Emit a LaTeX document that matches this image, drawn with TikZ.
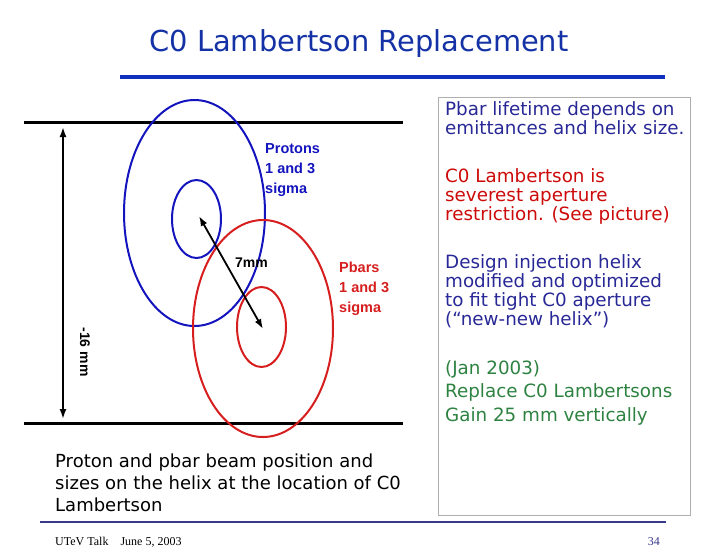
\documentclass[tikz,border=0pt]{standalone}
\usepackage{fontspec}
\setmainfont{DejaVu Sans}
\newfontfamily\arialfont{Liberation Sans}
\newfontfamily\timesfont{Liberation Serif}
\usetikzlibrary{arrows.meta}
\definecolor{titleblue}{RGB}{20,50,165}
\definecolor{ruleblue}{RGB}{15,50,190}
\definecolor{navytext}{RGB}{40,40,150}
\definecolor{redtext}{RGB}{205,10,10}
\definecolor{greentext}{RGB}{45,130,65}
\definecolor{protonblue}{RGB}{20,20,190}
\definecolor{pbarred}{RGB}{215,30,30}
\definecolor{footblue}{RGB}{55,55,140}
\definecolor{boxgray}{RGB}{175,175,175}
\tikzset{
  bodytext/.style={anchor=base west, align=left, inner sep=0pt, font=\fontsize{18.3}{19}\selectfont},
  beamlabel/.style={anchor=base west, align=left, inner sep=0pt, font=\arialfont\bfseries\fontsize{14.5}{20}\selectfont},
  wall/.style={line width=3pt},
  beam/.style={line width=2pt},
  measure/.style={line width=1.8pt, {Latex[length=10pt,width=7pt]}-{Latex[length=10pt,width=7pt]}},
}
\begin{document}
\begin{tikzpicture}[x=1pt,y=-1pt]
\useasboundingbox (0,0) rectangle (720,558);

\node[anchor=base, inner sep=0pt, text=titleblue, font=\fontsize{28.9}{30}\selectfont] (title) at (359,51) {C0 Lambertson Replacement};
\draw[ruleblue, line width=4pt] (120,77) -- (665,77);

\draw[wall] (24,122) -- (403,122);
\draw[wall] (24,423) -- (403,423);
\coordinate (gaptop) at (63,127);
\coordinate (gapbot) at (63,419);
\draw[measure] (gaptop) -- (gapbot);
\node[rotate=-90, inner sep=0pt, font=\arialfont\bfseries\fontsize{14}{16}\selectfont] (gaplabel) at (85,352) {-16 mm};

\draw[protonblue, beam] (194.5,213) ellipse [x radius=70.5, y radius=113];
\draw[protonblue, beam] (196.5,219) ellipse [x radius=24.5, y radius=39];
\draw[pbarred, beam] (263,328.5) ellipse [x radius=70, y radius=108.5];
\draw[pbarred, beam] (261.5,327) ellipse [x radius=24.5, y radius=40];

\coordinate (pcenter) at (199,216);
\coordinate (pbcenter) at (263,329);
\draw[measure] (pcenter) -- (pbcenter);
\node[anchor=base west, inner sep=0pt, font=\arialfont\bfseries\fontsize{14}{16}\selectfont] (sep) at (235,267) {7mm};

\node[beamlabel, text=protonblue] (plabel) at (265,193) {Protons\\1 and 3\\sigma};
\node[beamlabel, text=pbarred] (pblabel) at (339,312) {Pbars\\1 and 3\\sigma};

\draw[boxgray, line width=0.8pt] (438,97) rectangle (690,515);
\node[bodytext, text=navytext] (lifetime) at (445,134) {Pbar lifetime depends on\\emittances and helix size.};
\node[bodytext, text=redtext] (severe) at (445,220) {C0 Lambertson is\\severest aperture\\restriction. (See picture)};
\node[bodytext, text=navytext] (design) at (445,325) {Design injection helix\\modified and optimized\\to fit tight C0 aperture\\(“new-new helix”)};
\node[bodytext, text=greentext, font=\fontsize{18.3}{23.5}\selectfont] (replace) at (445,421) {(Jan 2003)\\Replace C0 Lambertsons\\Gain 25 mm vertically};

\node[bodytext, font=\fontsize{18}{22}\selectfont] (caption) at (55,511) {Proton and pbar beam position and\\sizes on the helix at the location of C0\\Lambertson};

\draw[footblue, line width=2.5pt] (40,522) -- (666,522);
\node[anchor=base west, inner sep=0pt, font=\timesfont\fontsize{12}{14}\selectfont] (footer) at (55,545) {UTeV Talk\quad June 5, 2003};
\node[anchor=base east, inner sep=0pt, text=footblue, font=\timesfont\fontsize{12}{14}\selectfont] (page) at (660,545) {34};
\end{tikzpicture}
\end{document}
